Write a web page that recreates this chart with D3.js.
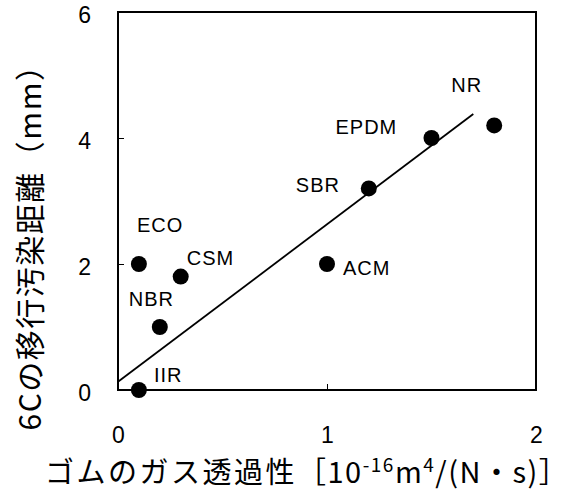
<!DOCTYPE html>
<html>
<head>
<meta charset="utf-8">
<script src="https://cdn.jsdelivr.net/npm/d3@7"></script>
<style>
  body { margin: 0; background: #fff; }
  svg { display: block; }
</style>
</head>
<body>
<div id="chart"></div>
<script>
// rubber samples
const names = ['ECO', 'CSM', 'NBR', 'IIR', 'ACM', 'SBR', 'EPDM', 'NR'];
const permeability = [0.1, 0.3, 0.2, 0.1, 1.0, 1.2, 1.5, 1.8];
const distance = [2.0, 1.8, 1.0, 0.0, 2.0, 3.2, 4.0, 4.2];
// fitted line endpoints
const fitX = [0, 1.7];
const fitY = [0.13, 4.38];
const xTicks = [0, 1, 2];
const yTicks = [0, 2, 4, 6];

// label offsets from the dot (text start, baseline)
const labelOffset = {
  ECO: [-2, -32], CSM: [6, -12], NBR: [-31, -21], IIR: [15, -8],
  ACM: [16, 11], SBR: [-73, 4], EPDM: [-96, -4], NR: [-43, -33]
};

const width = 575, height = 490;
const margin = { top: 12, right: 39, bottom: 100, left: 118 };

const svg = d3.select('#chart').append('svg')
  .attr('width', width)
  .attr('height', height);

const x = d3.scaleLinear().domain([0, 2]).range([margin.left, width - margin.right]);
const y = d3.scaleLinear().domain([0, 6]).range([height - margin.bottom, margin.top]);

const tickFont = '"Liberation Sans Narrow", "Liberation Sans", Arial, sans-serif';
const labelFont = '"Liberation Sans", Arial, sans-serif';
const jpFont = '"Noto Sans CJK JP", sans-serif';

// frame
svg.append('rect')
  .attr('x', x(0)).attr('y', y(6))
  .attr('width', x(2) - x(0)).attr('height', y(0) - y(6))
  .attr('fill', 'none').attr('stroke', '#000').attr('stroke-width', 2);

// y axis, ticks point inward
const yAxis = svg.append('g')
  .attr('transform', `translate(${x(0)},0)`)
  .call(d3.axisLeft(y).tickValues(yTicks).tickSize(-6).tickPadding(27).tickFormat(d3.format('d')));
yAxis.select('.domain').remove();
yAxis.selectAll('.tick line').attr('stroke', d => (d === 2 || d === 4) ? '#000' : 'none');
yAxis.selectAll('.tick text')
  .attr('dy', '0.45em')
  .attr('font-family', tickFont).attr('font-size', 23).attr('fill', '#000');

// x axis
const xAxis = svg.append('g')
  .attr('transform', `translate(0,${y(0)})`)
  .call(d3.axisBottom(x).tickValues(xTicks).tickSize(-6).tickPadding(37).tickFormat(d3.format('d')));
xAxis.select('.domain').remove();
xAxis.selectAll('.tick line').attr('stroke', d => d === 1 ? '#000' : 'none');
xAxis.selectAll('.tick text')
  .attr('font-family', tickFont).attr('font-size', 23).attr('fill', '#000');

// fit line
svg.append('line')
  .attr('x1', x(fitX[0])).attr('y1', y(fitY[0]))
  .attr('x2', x(fitX[1])).attr('y2', y(fitY[1]))
  .attr('stroke', '#000').attr('stroke-width', 1.8);

// dots
svg.selectAll('.dot')
  .data(names)
  .enter().append('circle')
  .attr('class', 'dot')
  .attr('cx', (d, i) => x(permeability[i]))
  .attr('cy', (d, i) => y(distance[i]))
  .attr('r', 8)
  .attr('fill', '#000');

// dot labels
svg.selectAll('.dot-label')
  .data(names)
  .enter().append('text')
  .attr('class', 'dot-label')
  .attr('x', (d, i) => x(permeability[i]) + labelOffset[d][0])
  .attr('y', (d, i) => y(distance[i]) + labelOffset[d][1])
  .attr('font-family', labelFont)
  .attr('font-size', 20)
  .attr('letter-spacing', 1)
  .attr('fill', '#000')
  .text(d => d);

// x title
const xt = svg.append('text')
  .attr('x', 45).attr('y', 483)
  .attr('font-family', jpFont)
  .attr('font-size', 29)
  .attr('letter-spacing', 1.5)
  .attr('fill', '#000');
xt.append('tspan').attr('letter-spacing', 2.5).text('ゴムのガス透過性');
xt.append('tspan').text('［10');
xt.append('tspan').attr('font-size', 19).attr('dy', -11).text('-16');
xt.append('tspan').attr('dy', 11).text('m');
xt.append('tspan').attr('font-size', 19).attr('dy', -11).text('4');
xt.append('tspan').attr('dy', 11).text('/(N・s)］');

// y title
svg.append('text')
  .attr('transform', 'translate(41,240) rotate(-90)')
  .attr('text-anchor', 'middle')
  .attr('font-family', jpFont)
  .attr('font-size', 30)
  .attr('letter-spacing', 1.5)
  .attr('fill', '#000')
  .text('6Cの移行汚染距離（mm）');
</script>
</body>
</html>
